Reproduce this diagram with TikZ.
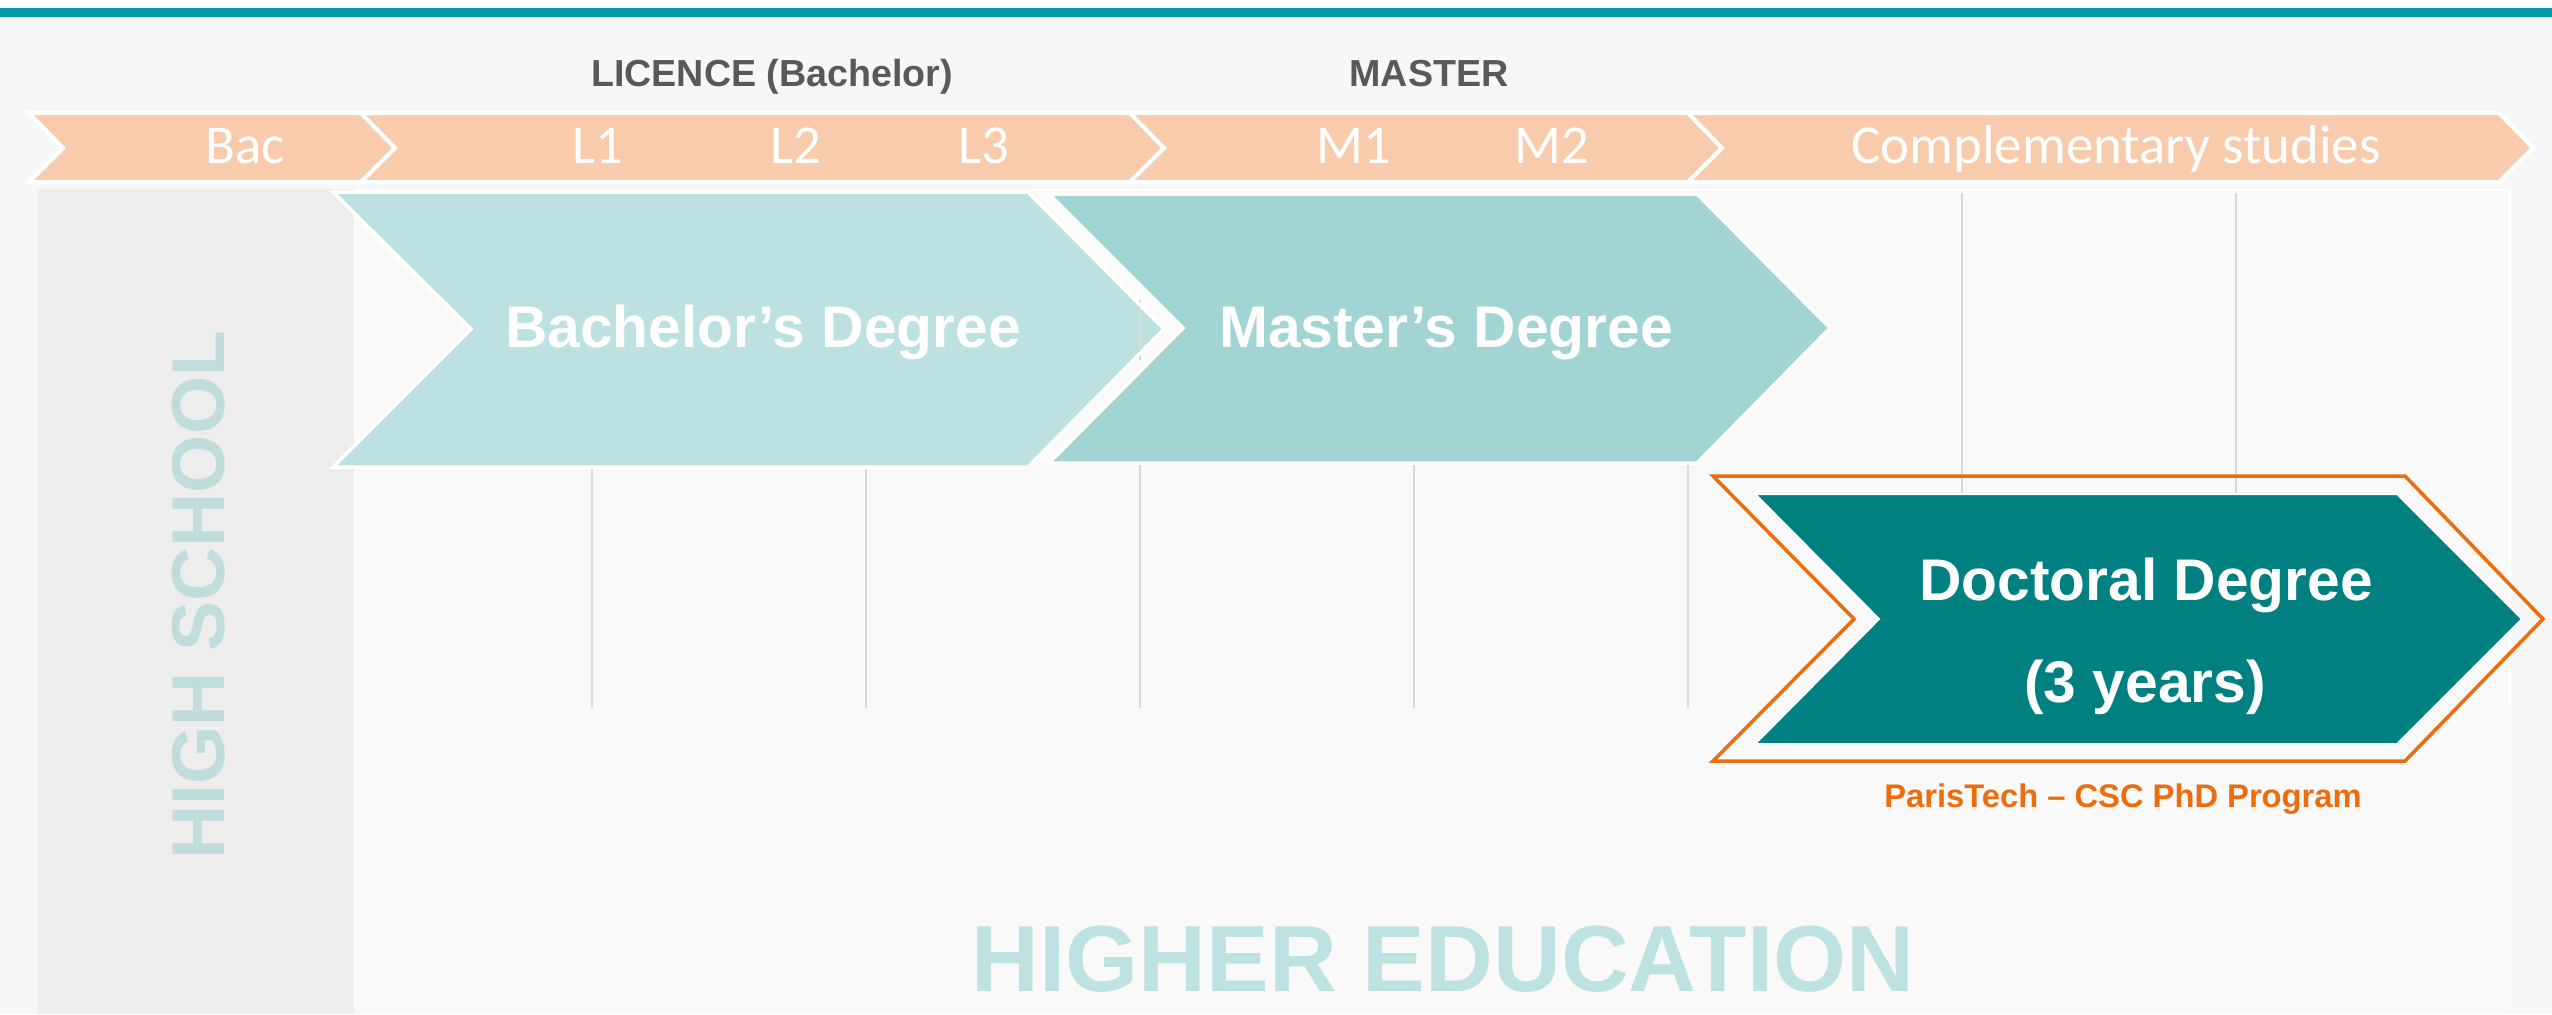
\documentclass[tikz,border=0pt]{standalone}
\usepackage{fontspec}
\setmainfont{Liberation Sans}
\newfontfamily\calfont{Carlito}
\definecolor{bgc}{HTML}{F7F7F7}
\definecolor{tablec}{HTML}{F9F9F9}
\definecolor{topline}{HTML}{0099A4}
\definecolor{peach}{HTML}{F8CBAD}
\definecolor{hsgrey}{HTML}{EDEDED}
\definecolor{bachc}{HTML}{BDE1E1}
\definecolor{mastc}{HTML}{A3D4D4}
\definecolor{docc}{HTML}{008080}
\definecolor{orangec}{HTML}{EC6C0E}
\definecolor{gridc}{HTML}{D9D9D9}
\definecolor{darkt}{HTML}{595959}
\definecolor{hstext}{HTML}{C0DCDC}
\definecolor{hetext}{HTML}{BEE1E1}
\begin{document}
\begin{tikzpicture}[x=0.01cm,y=-0.01cm,
  bandshape/.style={fill=peach,draw=white,line width=0.04cm},
  degshape/.style={draw=white,line width=0.035cm},
  gridline/.style={draw=gridc,line width=0.02cm},
  bandtxt/.style={text=white,anchor=base,inner sep=0pt,font=\calfont\fontsize{15.6}{18}\selectfont},
  headtxt/.style={text=darkt,anchor=base,inner sep=0pt,font=\bfseries\fontsize{10.7}{13}\selectfont},
  degtxt/.style={text=white,anchor=base,inner sep=0pt,font=\bfseries\fontsize{16.7}{20}\selectfont}]
\useasboundingbox (0,0) rectangle (2552,1014);
% background
\fill[bgc] (0,0) rectangle (2552,1014);
\fill[white] (0,0) rectangle (2552,8);
\fill[topline] (0,8) rectangle (2552,17);
% table area
\fill[tablec] (354,190) rectangle (2510,1014);
\draw[white,line width=0.025cm] (354,190) -- (2510,190) -- (2510,708);
% high school column
\fill[hsgrey] (38,189) rectangle (354,1014);
% grid lines
\foreach \gx in {592,866,1140,1414,1688,1962,2236}
  \draw[gridline] (\gx,193) -- (\gx,708);
% band chevrons
\draw[bandshape] (29,113) -- (361,113) -- (395,148) -- (361,182) -- (29,182) -- (63,148) -- cycle;
\draw[bandshape] (361,113) -- (1130,113) -- (1164,148) -- (1130,182) -- (361,182) -- (395,148) -- cycle;
\draw[bandshape] (1130,113) -- (1688,113) -- (1722,148) -- (1688,182) -- (1130,182) -- (1164,148) -- cycle;
\draw[bandshape] (1688,113) -- (2499,113) -- (2533,148) -- (2499,182) -- (1688,182) -- (1722,148) -- cycle;
% band labels
\node[bandtxt] (bac) at (245,163) {Bac};
\node[bandtxt] (l1) at (598,163) {L1};
\node[bandtxt] (l2) at (796,163) {L2};
\node[bandtxt] (l3) at (984,163) {L3};
\node[bandtxt] (m1) at (1354,163) {M1};
\node[bandtxt] (m2) at (1552,163) {M2};
\node[bandtxt] (comp) at (2116,163) {Complementary studies};
% headers
\node[headtxt] (licence) at (772,86) {LICENCE (Bachelor)};
\node[headtxt] (master) at (1429,86) {MASTER};
% degree chevrons
\fill[bgc!60!white] (1028,192) -- (1164,329) -- (1028,467) -- (1049,463) -- (1183,328) -- (1049,194) -- cycle;
\draw[degshape,fill=bachc] (333,192) -- (1028,192) -- (1164,329) -- (1028,467) -- (333,467) -- (471,329) -- cycle;
\draw[degshape,fill=mastc] (1049,194) -- (1697,194) -- (1830,328) -- (1697,463) -- (1049,463) -- (1183,328) -- cycle;
\draw[gridline] (1140,300) -- (1140,360);
\draw[white,line width=0.03cm] (1028,192) -- (1164,329) -- (1028,467);
\draw[white,line width=0.03cm] (1049,194) -- (1183,328) -- (1049,463);
\node[degtxt] (bachelor) at (763,347) {Bachelor’s Degree};
\node[degtxt] (masterdeg) at (1446,347) {Master’s Degree};
% doctoral
\draw[draw=orangec,line width=0.035cm] (1713,476) -- (2405,476) -- (2543,619) -- (2405,761) -- (1713,761) -- (1854,619) -- cycle;
\draw[draw=white,line width=0.02cm,fill=docc] (1755,494) -- (2397,494) -- (2522,619) -- (2397,744) -- (1755,744) -- (1879,619) -- cycle;
\node[degtxt] (doctoral) at (2146,600) {Doctoral Degree};
\node[degtxt] (years) at (2145,702) {(3 years)};
\node[text=orangec,anchor=base,inner sep=0pt,font=\bfseries\fontsize{9.3}{11}\selectfont] (paristech) at (2123,807) {ParisTech – CSC PhD Program};
% big labels
\node[text=hetext,anchor=base,inner sep=0pt,font=\bfseries\fontsize{26.7}{30}\selectfont] (higher) at (1443,991) {HIGHER EDUCATION};
\node[text=hstext,anchor=base,inner sep=0pt,rotate=90,font=\bfseries\fontsize{21.3}{25}\selectfont] (highschool) at (224,595) {HIGH SCHOOL};
\end{tikzpicture}
\end{document}
